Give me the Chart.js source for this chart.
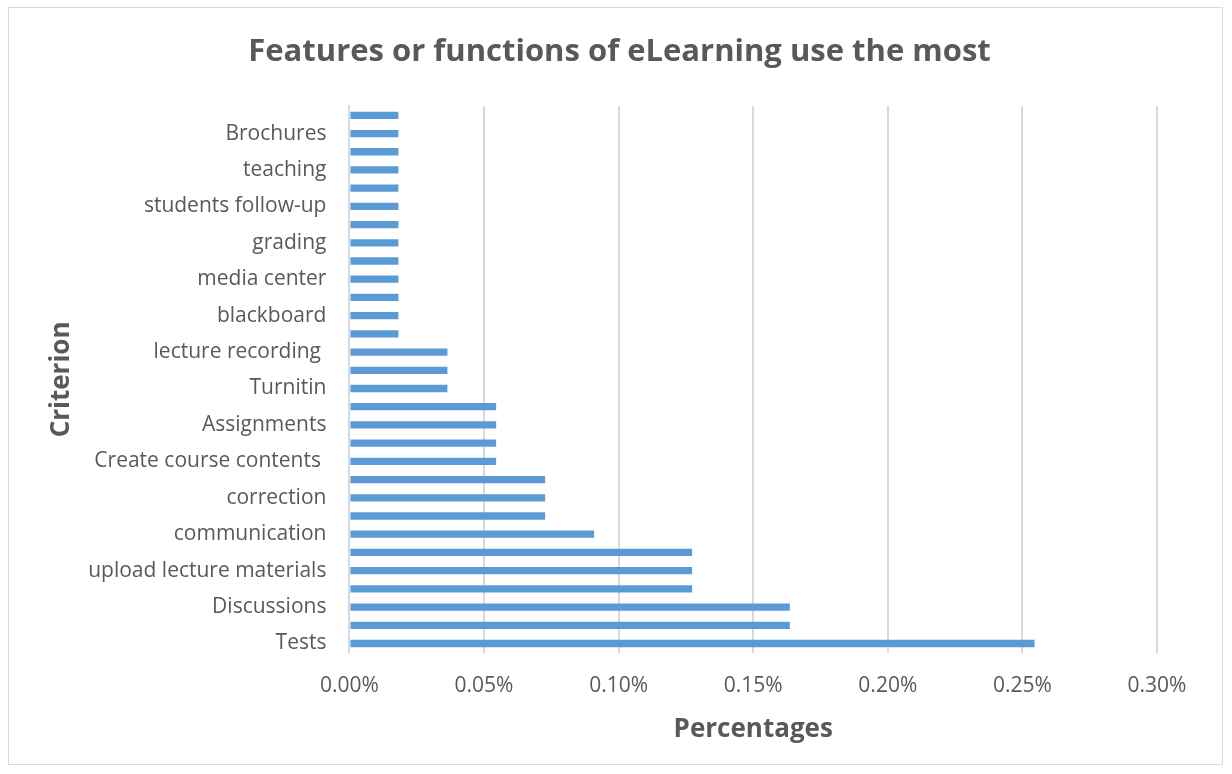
<!DOCTYPE html>
<html>
<head>
<meta charset="utf-8">
<script src="https://cdn.jsdelivr.net/npm/chart.js@4"></script>
<style>
  body { margin: 0; background: #fff; }
  #wrap { position: relative; width: 1232px; height: 774px; }
  #frame { position: absolute; left: 8px; top: 7px; width: 1215px; height: 758px; border: 1px solid #d9d9d9; box-sizing: border-box; }
</style>
</head>
<body>
<div id="wrap">
  <div id="frame"></div>
  <canvas id="featuresChart" width="1232" height="774"></canvas>
</div>
<script>
// categories from bottom (index 0) to top; unnamed ones are not shown in the picture
const criteria = [
  'Tests', '', 'Discussions', '', 'upload lecture materials', '', 'communication', '',
  'correction', '', 'Create course contents ', '', 'Assignments', '', 'Turnitin', '',
  'lecture recording ', '', 'blackboard', '', 'media center', '', 'grading', '',
  'students follow-up', '', 'teaching', '', 'Brochures', ''
];

// percentages
const percentages = [
  0.2545, 0.1636, 0.1636, 0.1273, 0.1273, 0.1273, 0.0909, 0.0727,
  0.0727, 0.0727, 0.0545, 0.0545, 0.0545, 0.0545, 0.0364, 0.0364,
  0.0364, 0.0182, 0.0182, 0.0182, 0.0182, 0.0182, 0.0182, 0.0182,
  0.0182, 0.0182, 0.0182, 0.0182, 0.0182, 0.0182
];

const xTicks = [0, 0.05, 0.10, 0.15, 0.20, 0.25, 0.30];

const grey = '#595959';
const fontFam = "'Open Sans', sans-serif";

const ctx = document.getElementById('featuresChart').getContext('2d');
const chart = new Chart(ctx, {
  type: 'bar',
  data: {
    labels: criteria,
    datasets: [{
      label: 'Percentages',
      data: percentages,
      backgroundColor: '#5b9bd5',
      categoryPercentage: 1,
      barPercentage: 0.4
    }]
  },
  options: {
    indexAxis: 'y',
    responsive: false,
    animation: false,
    // left padding is wide so the main title sits in the middle of the frame
    layout: { padding: { left: 82, right: 75, top: 10, bottom: 29 } },
    plugins: {
      legend: { display: false },
      tooltip: { enabled: false },
      title: {
        display: true,
        text: 'Features or functions of eLearning use the most',
        color: grey,
        font: { family: fontFam, size: 31, weight: 'bold' },
        padding: { top: 24, bottom: 35 }
      }
    },
    scales: {
      x: {
        min: 0,
        max: 0.30,
        afterBuildTicks: (axis) => { axis.ticks = xTicks.map(v => ({ value: v })); },
        ticks: {
          color: grey,
          padding: 21,
          font: { family: fontFam, size: 21 },
          callback: (v) => v.toFixed(2) + '%'
        },
        grid: { color: '#d9d9d9', lineWidth: 2, drawTicks: false },
        border: { display: false },
        title: {
          display: true,
          text: 'Percentages',
          color: grey,
          font: { family: fontFam, size: 26, weight: 'bold' },
          padding: { top: -6, bottom: 0 }
        }
      },
      y: {
        reverse: true,
        ticks: {
          autoSkip: false,
          color: grey,
          padding: 23,
          font: { family: fontFam, size: 21 },
          callback: function (v, i) { return i % 2 === 0 ? this.getLabelForValue(v) : ''; }
        },
        grid: { display: false, drawTicks: false },
        border: { display: true, color: '#d9d9d9', width: 2 },
        title: {
          display: true,
          text: 'Criterion',
          color: grey,
          font: { family: fontFam, size: 26, weight: 'bold' },
          padding: { top: -35.6, bottom: -12.4 }
        }
      }
    }
  }
});
</script>
</body>
</html>
